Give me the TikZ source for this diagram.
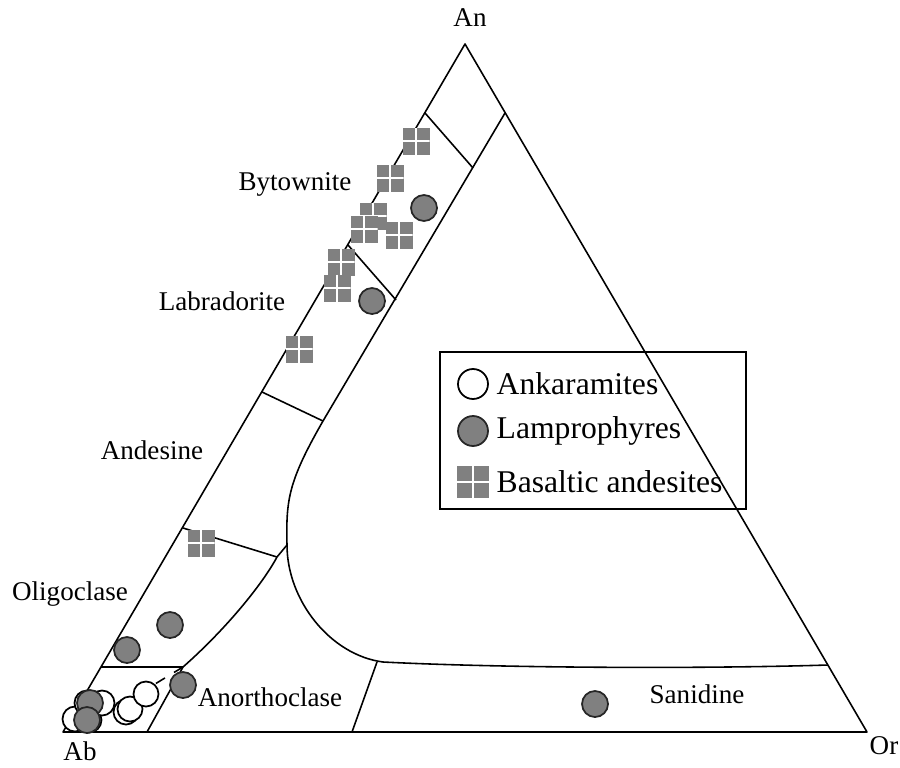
\documentclass[tikz,border=0pt]{standalone}
\usepackage{fontspec}
\setmainfont{Liberation Serif}
\usepackage{tikz}
\usepackage{xcolor}

\tikzset{
  ank/.style={circle,draw=black,fill=white,line width=0.5pt,minimum size=2.5mm,inner sep=0pt},
  lamp/.style={circle,draw=black!85,fill=gray,line width=0.5pt,minimum size=2.6mm,inner sep=0pt},
  basand/.style={rectangle,fill=gray,minimum size=2.7mm,inner sep=0pt,
    path picture={\draw[white,line width=0.6pt]
      (path picture bounding box.north) -- (path picture bounding box.south)
      (path picture bounding box.west) -- (path picture bounding box.east);}},
  field/.style={font=\fontsize{7.7}{9}\selectfont},
  leg/.style={font=\fontsize{9}{11}\selectfont,anchor=west,inner sep=0pt},
  bnd/.style={line width=0.45pt,line join=round}
}

\begin{document}
\begin{tikzpicture}[x=0.1mm,y=-0.1mm]
        \useasboundingbox (0,0) rectangle (900,767);
        % corners
        \coordinate (Ab) at (63,732);
        \coordinate (An) at (465,44);
        \coordinate (Or) at (867,732);
        % boundary points
        \coordinate (b1) at (505,113);
        \coordinate (b2) at (323,421);
        \coordinate (b3) at (287,545);
        \coordinate (b4) at (383,662);
        \coordinate (b5) at (828,665);
        \coordinate (p1) at (277,557);
        \coordinate (j) at (183,667);
        \coordinate (jd) at (155,684);
        \coordinate (s1) at (377,662);
        \coordinate (s2) at (352,732);
        \coordinate (a1) at (147,732);
        \coordinate (o1) at (101,667);
        % triangle
        \draw[bnd] (Ab) -- (An) -- (Or) -- cycle;
        % field boundaries
        \draw[bnd] (b1) -- (b2) .. controls (288,482) and (286,500) .. (b3)
                .. controls (287,600) and (330,655) .. (b4)
                .. controls (500,668) and (700,669) .. (b5);
        \draw[bnd] (b3) -- (p1) .. controls (262,585) and (225,630) .. (j);
        \draw[bnd] (o1) -- (j) -- (a1);
        \draw[bnd,dashed] (j) -- (jd);
        \draw[bnd] (s1) -- (s2);
        % plagioclase dividers
        \draw[bnd] (425,113) -- (473,168);
        \draw[bnd] (348,245) -- (396,300);
        \draw[bnd] (262,392) -- (b2);
        \draw[bnd] (183,528) -- (p1);
        % corner labels
        \node[field] (lAn) at (470,18) {An};
        \node[field] (lAb) at (80,751) {Ab};
        \node[field] (lOr) at (884,746) {Or};
        % field labels
        \node[field] (lByt) at (295,184) {Bytownite};
        \node[field] (lLab) at (222,301) {Labradorite};
        \node[field] (lAnd) at (152,450) {Andesine};
        \node[field] (lOli) at (70,594) {Oligoclase};
        \node[field] (lAno) at (270,697) {Anorthoclase};
        \node[field] (lSan) at (697,694) {Sanidine};
        % basaltic andesites
        \node[basand] (q1) at (416,141) {};
        \node[basand] (q2) at (390,178) {};
        \node[basand] (q3) at (373,216) {};
        \node[basand] (q4) at (364,229) {};
        \node[basand] (q5) at (399,235) {};
        \node[basand] (q6) at (341,262) {};
        \node[basand] (q7) at (337,288) {};
        \node[basand] (q8) at (299,349) {};
        \node[basand] (q9) at (201,543) {};
        % ankaramites
        \node[ank] (k1) at (75,719) {};
        \node[ank] (k2) at (89,720) {};
        \node[ank] (k3) at (87,703) {};
        \node[ank] (k4) at (102,703) {};
        \node[ank] (k5) at (126,712) {};
        \node[ank] (k6) at (130,709) {};
        \node[ank] (k7) at (146,694) {};
        % lamprophyres
        \node[lamp] (m1) at (424,208) {};
        \node[lamp] (m2) at (372,301) {};
        \node[lamp] (m3) at (170,625) {};
        \node[lamp] (m4) at (127,650) {};
        \node[lamp] (m5) at (183,685) {};
        \node[lamp] (m6) at (595,704) {};
        \node[lamp] (m7) at (90,703) {};
        \node[lamp] (m8) at (87,720) {};
        % legend
        \node[draw,line width=0.5pt,minimum width=30.6mm,minimum height=15.7mm,inner sep=0pt] (legend) at (593,430.5) {};
        \node[ank,minimum size=3mm] (kAnk) at (473,384) {};
        \node[lamp,minimum size=3mm] (kLam) at (473,431) {};
        \node[basand,minimum size=3.2mm] (kBas) at (473,482) {};
        \node[leg] (tAnk) at (496,384) {Ankaramites};
        \node[leg] (tLam) at (496,431) {Lamprophyres};
        \node[leg] (tBas) at (496,482) {Basaltic andesites};
\end{tikzpicture}
\end{document}
